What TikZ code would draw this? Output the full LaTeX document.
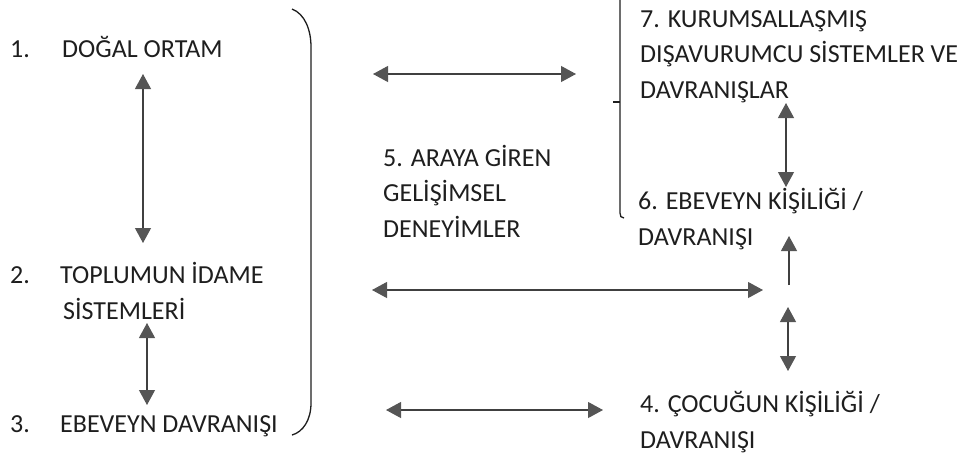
\documentclass[tikz,border=0pt]{standalone}
\usepackage{fontspec}
\setmainfont{Carlito}
\usetikzlibrary{arrows.meta}
\definecolor{ink}{HTML}{1E1E1E}
\definecolor{tipgray}{HTML}{555555}
\tikzset{
  lbl/.style={anchor=base west, inner sep=0pt, align=left, text=ink,
    font=\fontsize{26}{35.5}\selectfont},
  arr/.style={draw=ink!85, line width=1.1pt,
    {Triangle[length=15pt,width=16pt,fill=tipgray,color=tipgray]}-{Triangle[length=15pt,width=16pt,fill=tipgray,color=tipgray]}},
  uparr/.style={draw=ink!85, line width=1.1pt,
    -{Triangle[length=15pt,width=16pt,fill=tipgray,color=tipgray]}},
  brk/.style={draw=ink, line width=1.3pt}
}
\begin{document}
\begin{tikzpicture}[x=1pt,y=-1pt]
	\useasboundingbox (0,0) rectangle (971,459);
	% left column
	\node[lbl] (num1) at (10,57) {1.};
	\node[lbl] (nat) at (62,57) {DOĞAL ORTAM};
	\node[lbl] (num2) at (10,283) {2.};
	\node[lbl] (soc) at (60,319) {TOPLUMUN İDAME\\\hspace*{3pt}SİSTEMLERİ};
	\node[lbl] (num3) at (10,432) {3.};
	\node[lbl] (par) at (60,432) {EBEVEYN DAVRANIŞI};

	% middle and right column (base = last line)
	\node[lbl] (dev) at (383,237) {5. ARAYA GİREN\\GELİŞİMSEL\\DENEYİMLER};
	\node[lbl] (inst) at (640,98) {7. KURUMSALLAŞMIŞ\\DIŞAVURUMCU SİSTEMLER VE\\DAVRANIŞLAR};
	\node[lbl] (pers) at (638,245) {6. EBEVEYN KİŞİLİĞİ /\\DAVRANIŞI};
	\node[lbl] (child) at (640,448) {4. ÇOCUĞUN KİŞİLİĞİ /\\DAVRANIŞI};

	% arrow ends
	\coordinate (natS) at (143,74);
	\coordinate (socN) at (143,243);
	\coordinate (socS) at (147,323);
	\coordinate (parN) at (147,405);
	\coordinate (topL) at (373,74);
	\coordinate (topR) at (576,74);
	\coordinate (midL) at (372,290);
	\coordinate (midR) at (763,290);
	\coordinate (botL) at (386,410);
	\coordinate (botR) at (603,410);
	\coordinate (instS) at (786,103);
	\coordinate (persN) at (786,187);
	\coordinate (persS) at (789,236);
	\coordinate (stem) at (789,285);
	\coordinate (childN) at (788,307);
	\coordinate (childNN) at (788,371);

	\draw[arr] (natS) -- (socN);
	\draw[arr] (socS) -- (parN);
	\draw[arr] (topL) -- (topR);
	\draw[arr] (midL) -- (midR);
	\draw[arr] (botL) -- (botR);
	\draw[arr] (instS) -- (persN);
	\draw[uparr] (stem) -- (persS);
	\draw[arr] (childN) -- (childNN);

	% brackets
	\draw[brk] (292,9) .. controls (305,14) and (311,30) .. (311,47) -- (311,403) .. controls (311,420) and (303,432) .. (292,435);
	\draw[brk] (620,0) -- (620,213) .. controls (620,216) and (621,218) .. (624,218);
	\draw[brk] (620,102) -- (613,102);
\end{tikzpicture}
\end{document}
